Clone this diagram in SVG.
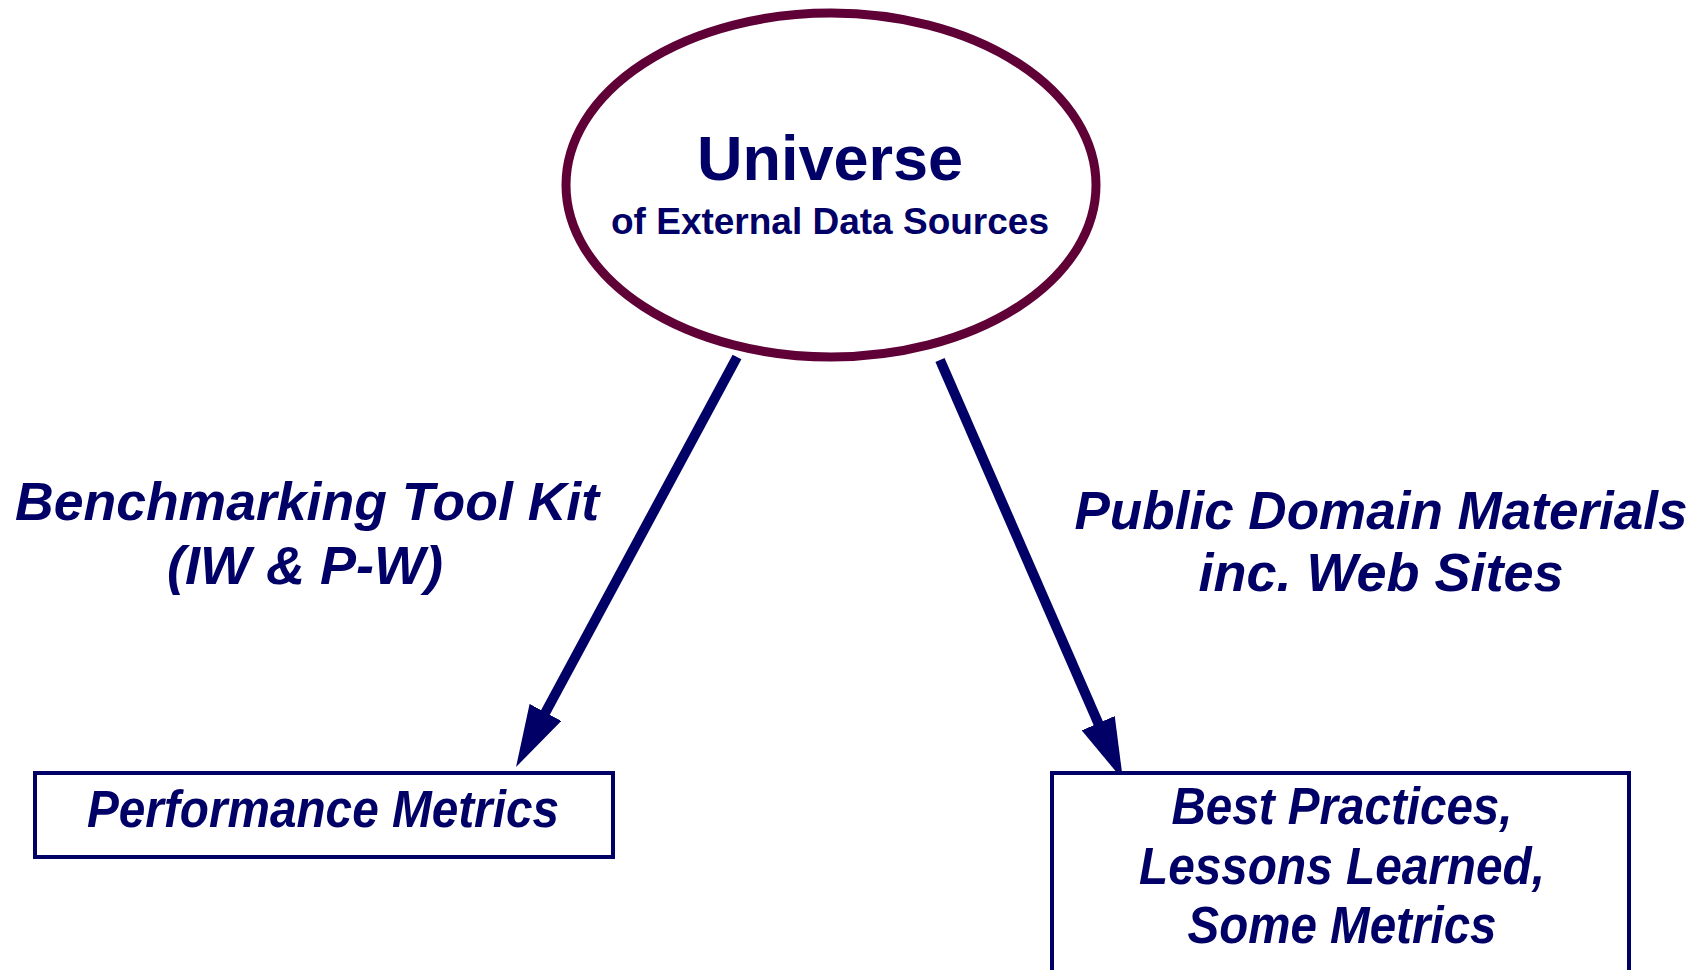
<svg xmlns="http://www.w3.org/2000/svg" width="1707" height="970" viewBox="0 0 1707 970">
<style>
.t{font-family:"Liberation Sans",Arial,sans-serif;font-weight:bold;fill:#000066}
.i{font-style:italic}
.box{fill:#fff;stroke:#000066;stroke-width:4}
.conn{stroke:#000066;stroke-width:10;fill:none}
</style>
<defs>
<marker id="ah" markerUnits="userSpaceOnUse" markerWidth="62" markerHeight="36" refX="37" refY="18" orient="auto" viewBox="0 0 62 36">
<path d="M0,0 L62,18 L0,36 Z" fill="#000066"/>
</marker>
</defs>
<rect width="1707" height="970" fill="#fff"/>
<g id="universe">
<ellipse cx="831" cy="185" rx="265" ry="172" fill="#fff" stroke="#5f0037" stroke-width="9"/>
<text class="t" x="830" y="180" font-size="63" text-anchor="middle">Universe</text>
<text class="t" x="830" y="234" font-size="37" text-anchor="middle">of External Data Sources</text>
</g>
<g id="connectors">
<line class="conn" x1="737" y1="357" x2="527.9" y2="745" marker-end="url(#ah)"/>
<line class="conn" x1="940" y1="360" x2="1113" y2="757.1" marker-end="url(#ah)"/>
</g>
<g id="label-benchmarking">
<text class="t i" x="307" y="520" font-size="54" text-anchor="middle" textLength="584" lengthAdjust="spacingAndGlyphs">Benchmarking Tool Kit</text>
<text class="t i" x="305" y="584" font-size="54" text-anchor="middle">(IW &amp; P-W)</text>
</g>
<g id="label-public">
<text class="t i" x="1381" y="529" font-size="54" text-anchor="middle" textLength="613" lengthAdjust="spacingAndGlyphs">Public Domain Materials</text>
<text class="t i" x="1381" y="591" font-size="54" text-anchor="middle">inc. Web Sites</text>
</g>
<g id="performance-metrics">
<rect class="box" x="35" y="773" width="578" height="84"/>
<text class="t i" x="323" y="827" font-size="51" text-anchor="middle" textLength="472" lengthAdjust="spacingAndGlyphs">Performance Metrics</text>
</g>
<g id="best-practices">
<rect class="box" x="1052" y="773" width="577" height="230"/>
<text class="t i" x="1342" y="824" font-size="51" text-anchor="middle" textLength="341" lengthAdjust="spacingAndGlyphs">Best Practices,</text>
<text class="t i" x="1342" y="884" font-size="51" text-anchor="middle" textLength="406" lengthAdjust="spacingAndGlyphs">Lessons Learned,</text>
<text class="t i" x="1342" y="943" font-size="51" text-anchor="middle" textLength="309" lengthAdjust="spacingAndGlyphs">Some Metrics</text>
</g>
</svg>
